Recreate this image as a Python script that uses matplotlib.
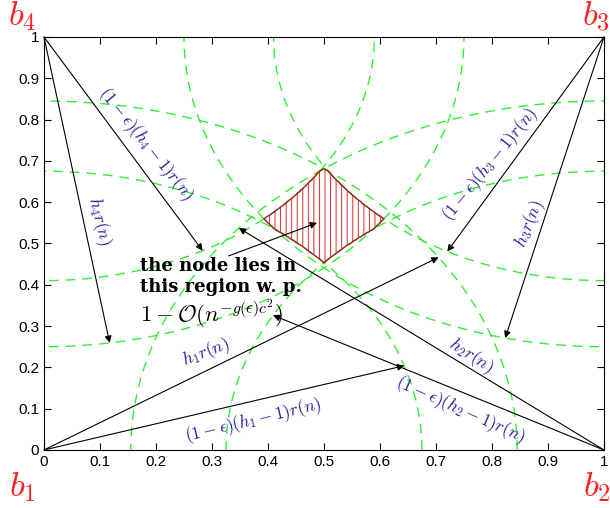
import numpy as np
import matplotlib.pyplot as plt

plt.rcParams['mathtext.fontset'] = 'cm'
plt.rcParams['hatch.color'] = '#d83030'
plt.rcParams['hatch.linewidth'] = 0.7

# corners b1..b4
corners = [(0, 0), (1, 0), (1, 1), (0, 1)]
corner_names = ['$b_1$', '$b_2$', '$b_3$', '$b_4$']
# inner radius (1-eps)(h_i-1)r(n) and outer radius h_i r(n) for each corner
inner_r = [0.675, 0.675, 0.59, 0.59]
outer_r = [0.845, 0.845, 0.75, 0.75]
# direction (degrees) of the arrows drawn from each corner
inner_ang = [17.6, 151.1, 241.7, 298.7]
outer_ang = [33.5, 140.5, 256.4, 279.0]

# labels: text, position, rotation
labels = [r'$(1-\epsilon)(h_4-1)r(n)$', r'$h_4r(n)$',
          r'$(1-\epsilon)(h_3-1)r(n)$', r'$h_3r(n)$',
          r'$h_1r(n)$', r'$(1-\epsilon)(h_1-1)r(n)$',
          r'$h_2r(n)$', r'$(1-\epsilon)(h_2-1)r(n)$']
label_x = [0.182, 0.098, 0.797, 0.868, 0.29, 0.374, 0.762, 0.743]
label_y = [0.74, 0.555, 0.69, 0.547, 0.235, 0.072, 0.228, 0.097]
label_rot = [-51, -76, 51, 68, 21, 13.5, -33, -24]

fig = plt.figure(figsize=(6.1, 5.08), dpi=100)
ax = fig.add_axes([0.0721, 0.1142, 0.918, 0.813])

green = '#33ee33'
t = np.linspace(0, 2 * np.pi, 1441)
for (cx, cy), ri, ro in zip(corners, inner_r, outer_r):
    for r in (ri, ro):
        ax.plot(cx + r * np.cos(t), cy + r * np.sin(t), color=green,
                lw=1, dashes=(7, 5))

# region where the node lies
g = np.linspace(0, 1, 801)
X, Y = np.meshgrid(g, g)
mask = np.ones_like(X, dtype=bool)
for (cx, cy), ri, ro in zip(corners, inner_r, outer_r):
    d = np.hypot(X - cx, Y - cy)
    mask &= (d >= ri) & (d <= ro)
ax.contourf(X, Y, mask.astype(float), levels=[0.5, 1.5], colors='none',
            hatches=['|||'])
ax.contour(X, Y, mask.astype(float), levels=[0.5], colors='#a02020',
           linewidths=1)

# arrows from corners
aprops = dict(arrowstyle='-|>', color='k', lw=0.8, mutation_scale=10,
              shrinkA=0, shrinkB=0)
for (cx, cy), ri, ro, ai, ao in zip(corners, inner_r, outer_r, inner_ang, outer_ang):
    for r, a in ((ri, ai), (ro, ao)):
        tip = (cx + r * np.cos(np.radians(a)), cy + r * np.sin(np.radians(a)))
        ax.annotate('', xy=tip, xytext=(cx, cy), arrowprops=aprops)

ax.annotate('', xy=(0.4875, 0.55), xytext=(0.33, 0.47), arrowprops=aprops)

for s, x, y, rot in zip(labels, label_x, label_y, label_rot):
    ax.text(x, y, s, color='#1c1c9c', fontsize=12.5, rotation=rot,
            rotation_mode='anchor', ha='center', va='center')

ax.text(0.171, 0.433, 'the node lies in', fontsize=13, fontweight='bold',
        family='DejaVu Serif', va='baseline')
ax.text(0.171, 0.383, 'this region w. p.', fontsize=13, fontweight='bold',
        family='DejaVu Serif', va='baseline')
ax.text(0.171, 0.31, r'$1-\mathcal{O}(n^{-g(\epsilon)c^2})$', fontsize=16.5,
        va='baseline')

# corner names
name_pos = [(-0.039, -0.09), (0.9875, -0.09), (0.985, 1.05), (-0.039, 1.05)]
for s, (x, y) in zip(corner_names, name_pos):
    ax.text(x, y, s, color='#ff2020', fontsize=25, ha='center', va='center',
            transform=ax.transAxes, clip_on=False)

ax.set_xlim(0, 1)
ax.set_ylim(0, 1)
ticks = np.round(np.arange(0, 1.01, 0.1), 1)
ticklabels = ['0', '0.1', '0.2', '0.3', '0.4', '0.5', '0.6', '0.7', '0.8', '0.9', '1']
ax.set_xticks(ticks)
ax.set_xticklabels(ticklabels)
ax.set_yticks(ticks)
ax.set_yticklabels(ticklabels)
ax.tick_params(direction='in', top=True, right=True, length=5, labelsize=11)
for lab in ax.get_xticklabels() + ax.get_yticklabels():
    lab.set_family('Liberation Sans')

fig.savefig('out.png', dpi=100)
